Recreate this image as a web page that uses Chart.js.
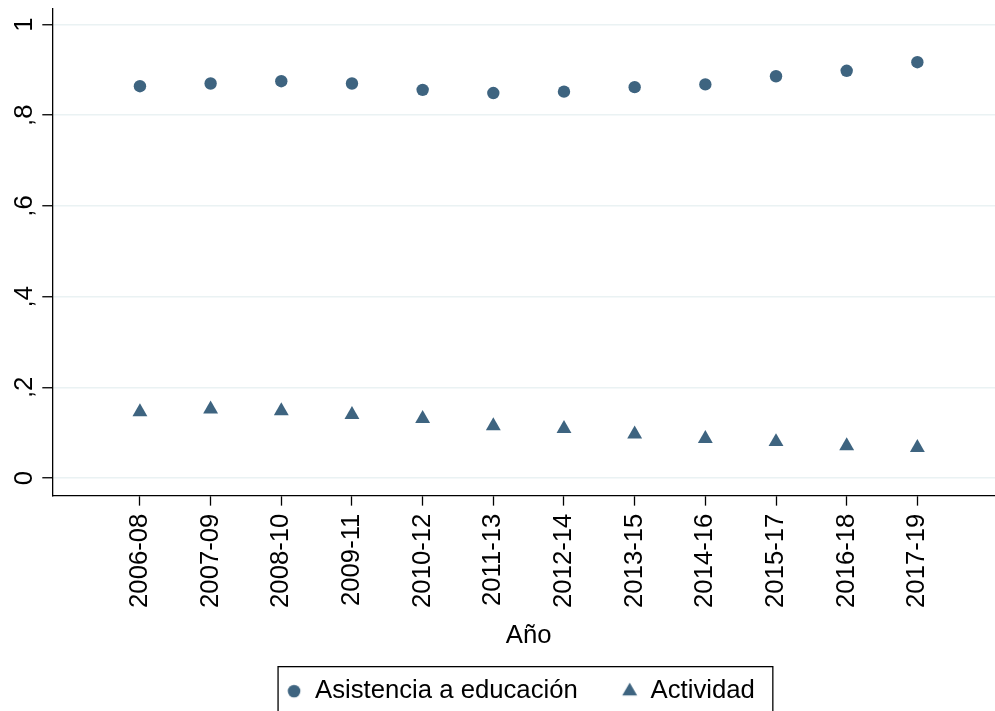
<!DOCTYPE html>
<html lang="es">
<head>
<meta charset="utf-8">
<title>Asistencia a educación y actividad</title>
<script src="https://cdn.jsdelivr.net/npm/chart.js@4/dist/chart.umd.min.js"></script>
<style>
  html, body { margin: 0; padding: 0; background: #fff; overflow: hidden; }
  #wrap { width: 1005px; height: 714px; }
</style>
</head>
<body>
<div id="wrap"><canvas id="chart" width="1005" height="714"></canvas></div>
<script>
// Three-year rolling periods
const categories = ['2006-08', '2007-09', '2008-10', '2009-11', '2010-12', '2011-13',
                    '2012-14', '2013-15', '2014-16', '2015-17', '2016-18', '2017-19'];
// Share attending education
const asistencia = [0.864, 0.870, 0.875, 0.870, 0.856, 0.849, 0.852, 0.862, 0.868, 0.886, 0.898, 0.917];
// Share economically active
const actividad = [0.146, 0.152, 0.148, 0.140, 0.131, 0.115, 0.109, 0.097, 0.087, 0.080, 0.071, 0.067];
// Y axis ticks (decimal comma)
const yTickValues = [0, 0.2, 0.4, 0.6, 0.8, 1];
const yTickLabels = ['0', ',2', ',4', ',6', ',8', '1'];
const seriesNames = ['Asistencia a educación', 'Actividad'];
const xTitle = 'Año';

const MARKER = '#3e6480';
const FONT = { family: '"Liberation Sans", Arial, Helvetica, sans-serif', size: 25.7 };
const LEGEND_BOX = 52;      // width reserved for each legend symbol
const SYMBOL_OFFSET = 8.1;  // symbol centre, measured back from the end of that box

// Legend symbols: drawn on small canvases so each can keep its own size
function legendSymbol(kind, r) {
  const c = document.createElement('canvas');
  c.width = LEGEND_BOX; c.height = 24;
  const g = c.getContext('2d');
  const cx = LEGEND_BOX - SYMBOL_OFFSET, cy = 12;
  g.fillStyle = MARKER;
  g.beginPath();
  if (kind === 'circle') {
    g.arc(cx, cy, r, 0, Math.PI * 2);
  } else {
    const s = Math.sin(Math.PI * 2 / 3) * r;
    g.moveTo(cx, cy - r);
    g.lineTo(cx + s, cy + r / 2);
    g.lineTo(cx - s, cy + r / 2);
    g.closePath();
  }
  g.fill();
  return c;
}
const legendSymbols = [legendSymbol('circle', 6.3), legendSymbol('triangle', 8.6)];

// Frame around the legend
const legendFrame = {
  id: 'legendFrame',
  afterDraw(chart) {
    const lg = chart.legend;
    const hb = lg && lg.legendHitBoxes;
    if (!hb || hb.length < 2) return;
    const ctx = chart.ctx;
    const mid = hb[0].top + hb[0].height / 2;
    const left = hb[0].left + LEGEND_BOX - SYMBOL_OFFSET - 16;
    const right = hb[hb.length - 1].left + hb[hb.length - 1].width + 18;
    ctx.save();
    ctx.strokeStyle = '#000';
    ctx.lineWidth = 1.3;
    ctx.strokeRect(left, mid - 24.5, right - left, 49);
    ctx.restore();
  }
};

new Chart(document.getElementById('chart'), {
  type: 'scatter',
  data: {
    datasets: [
      {
        label: seriesNames[0],
        data: categories.map((c, i) => ({ x: i, y: asistencia[i] })),
        pointStyle: 'circle',
        pointRadius: 6.2,
        backgroundColor: MARKER,
        borderWidth: 0
      },
      {
        label: seriesNames[1],
        data: categories.map((c, i) => ({ x: i, y: actividad[i] })),
        pointStyle: 'triangle',
        pointRadius: 8.6,
        backgroundColor: MARKER,
        borderWidth: 0
      }
    ]
  },
  options: {
    responsive: false,
    animation: false,
    devicePixelRatio: 1,
    events: [],
    layout: { autoPadding: false, padding: { top: 8.3, left: 0, right: 0, bottom: 0 } },
    scales: {
      x: {
        type: 'linear',
        min: -1.24,
        max: 12.24,
        afterBuildTicks: (s) => { s.ticks = categories.map((c, i) => ({ value: i })); },
        afterFit: (s) => { s.height = 174.65; s.paddingLeft = 0; s.paddingRight = 0; },
        ticks: {
          autoSkip: false,
          minRotation: 90,
          maxRotation: 90,
          padding: 8,
          color: '#000',
          font: FONT,
          callback: (v) => categories[v]
        },
        grid: {
          drawOnChartArea: false,
          drawTicks: true,
          tickLength: 10,
          tickColor: '#000',
          tickWidth: 1.3
        },
        border: { display: true, color: '#000', width: 1.3 },
        title: {
          display: true,
          text: xTitle,
          color: '#000',
          font: FONT,
          padding: { top: 4, bottom: 18.7 }
        }
      },
      y: {
        min: -0.0387,
        max: 1.0358,
        afterBuildTicks: (s) => { s.ticks = yTickValues.map(v => ({ value: v })); },
        afterFit: (s) => { s.width = 52.3; s.paddingTop = 0; s.paddingBottom = 0; },
        ticks: {
          minRotation: 90,
          maxRotation: 90,
          crossAlign: 'center',
          padding: 7,
          color: '#000',
          font: FONT,
          callback: (v, i) => yTickLabels[i]
        },
        grid: {
          color: '#eaf2f3',
          lineWidth: 1.5,
          drawTicks: true,
          tickLength: 10,
          tickColor: '#000',
          tickWidth: 1.3
        },
        border: { display: true, color: '#000', width: 1.3 }
      }
    },
    plugins: {
      tooltip: { enabled: false },
      legend: {
        position: 'bottom',
        labels: {
          usePointStyle: true,
          pointStyleWidth: LEGEND_BOX,
          padding: 8,
          color: '#000',
          font: FONT,
          generateLabels(chart) {
            const items = Chart.defaults.plugins.legend.labels.generateLabels(chart);
            items.forEach((it, i) => { it.pointStyle = legendSymbols[i]; });
            return items;
          }
        }
      }
    }
  },
  plugins: [legendFrame]
});
</script>
</body>
</html>
